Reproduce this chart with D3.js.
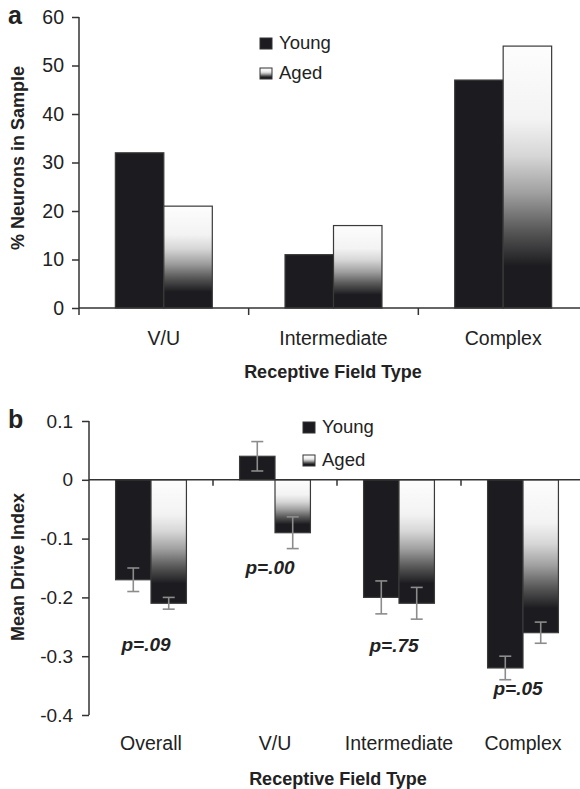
<!DOCTYPE html>
<html>
<head>
<meta charset="utf-8">
<script src="https://cdnjs.cloudflare.com/ajax/libs/d3/7.8.5/d3.min.js"></script>
<style>
  html, body { margin: 0; padding: 0; background: #fff; }
  svg { display: block; font-family: "Liberation Sans", Arial, Helvetica, sans-serif; }
</style>
</head>
<body>
<svg id="chart" width="580" height="789"></svg>
<script>
// ---- Panel a: distribution of receptive field types ----
const catsA = ["V/U", "Intermediate", "Complex"];
const groups = ["Young", "Aged"];
const youngPct = [32, 11, 47];
const agedPct = [21, 17, 54];
const ticksA = [0, 10, 20, 30, 40, 50, 60];

// ---- Panel b: mean drive index ----
const catsB = ["Overall", "V/U", "Intermediate", "Complex"];
const youngDrive = [-0.17, 0.04, -0.20, -0.32];
const agedDrive = [-0.21, -0.09, -0.21, -0.26];
const youngErr = [0.02, 0.025, 0.028, 0.02];
const agedErr = [0.01, 0.027, 0.027, 0.018];
const pLabels = ["p=.09", "p=.00", "p=.75", "p=.05"];
const ticksB = [0.1, 0, -0.1, -0.2, -0.3, -0.4];
const tickLabelsB = ["0.1", "0", "-0.1", "-0.2", "-0.3", "-0.4"];

// layout: baseline of each p label, in drive-index units
const pLabelY = [-0.291, -0.160, -0.293, -0.366];

const svg = d3.select("#chart");
const INK = "#222";
const AXIS = "#333";
const BAR_DARK = "#1c1b1f";

// white-to-black vertical fill used for the aged bars
const defs = svg.append("defs");
const grad = defs.append("linearGradient")
  .attr("id", "agedFill").attr("x1", 0).attr("y1", 0).attr("x2", 0).attr("y2", 1);
[[0, "#fdfdfd"], [0.28, "#f3f3f3"], [0.42, "#d6d6d6"], [0.56, "#a0a0a0"],
 [0.70, "#5a5a5a"], [0.84, BAR_DARK], [1, BAR_DARK]].forEach(([o, c]) =>
  grad.append("stop").attr("offset", o).attr("stop-color", c));

const fillFor = g => g === "Young" ? BAR_DARK : "url(#agedFill)";

function drawLegend(x, y, gap) {
  groups.forEach((g, i) => {
    const yy = y + i * gap;
    svg.append("rect").attr("x", x).attr("y", yy - 11).attr("width", 12).attr("height", 11)
      .attr("fill", fillFor(g)).attr("stroke", "#333").attr("stroke-width", 1);
    svg.append("text").attr("x", x + 19).attr("y", yy)
      .attr("font-size", 18.5).attr("fill", INK).text(g);
  });
}

// ================= Panel a =================
{
  const x = d3.scaleBand().domain(catsA).range([79, 588]);
  const x1 = d3.scaleBand().domain(groups).range([0, x.bandwidth()])
    .paddingInner(0).paddingOuter(0.75);
  const y = d3.scaleLinear().domain([0, 60]).range([308, 17]);

  const rows = catsA.map((c, i) => ({ c, vals: [youngPct[i], agedPct[i]] }));
  svg.append("g").selectAll("g").data(rows).join("g")
    .attr("transform", d => `translate(${x(d.c)},0)`)
    .selectAll("rect").data(d => d.vals.map((v, j) => ({ g: groups[j], v })))
    .join("rect")
    .attr("x", d => x1(d.g)).attr("width", x1.bandwidth())
    .attr("y", d => y(d.v)).attr("height", d => y(0) - y(d.v))
    .attr("fill", d => fillFor(d.g)).attr("stroke", "#3a3a3a").attr("stroke-width", 1.2);

  const yAxis = svg.append("g").attr("transform", "translate(79,0)")
    .call(d3.axisLeft(y).tickValues(ticksA).tickSize(7).tickPadding(8).tickFormat(d3.format("d")));
  yAxis.select(".domain").attr("stroke", AXIS).attr("stroke-width", 1.5).attr("d", `M0,${y(60)}V${y(0)}`);
  yAxis.selectAll(".tick line").attr("stroke", AXIS).attr("stroke-width", 1.5);
  yAxis.selectAll(".tick text").attr("font-size", 19.5).attr("fill", INK)
    .attr("font-family", "Liberation Sans, Arial, sans-serif");

  // baseline and band-boundary ticks
  svg.append("line").attr("x1", 79).attr("x2", 580).attr("y1", y(0)).attr("y2", y(0))
    .attr("stroke", AXIS).attr("stroke-width", 1.5);
  svg.append("g").selectAll("line").data(catsA).join("line")
    .attr("x1", d => x(d)).attr("x2", d => x(d)).attr("y1", y(0)).attr("y2", y(0) + 7)
    .attr("stroke", AXIS).attr("stroke-width", 1.5);

  const xl = svg.append("g").attr("transform", "translate(0,345)")
    .call(d3.axisBottom(x).tickSize(0).tickPadding(0));
  xl.select(".domain").remove();
  xl.selectAll(".tick text").attr("dy", 0).attr("font-size", 19.5).attr("fill", INK)
    .attr("font-family", "Liberation Sans, Arial, sans-serif");

  svg.append("text").attr("x", 333).attr("y", 378).attr("text-anchor", "middle")
    .attr("font-size", 18).attr("font-weight", "bold").attr("fill", INK).text("Receptive Field Type");
  svg.append("text").attr("transform", `translate(24,158) rotate(-90)`).attr("text-anchor", "middle")
    .attr("font-size", 18).attr("font-weight", "bold").attr("fill", INK).text("% Neurons in Sample");
  svg.append("text").attr("x", 8).attr("y", 24).attr("font-size", 25)
    .attr("font-weight", "bold").attr("fill", INK).text("a");

  drawLegend(260, 49, 30);
}

// ================= Panel b =================
{
  const x = d3.scaleBand().domain(catsB).range([89, 585]);
  const x1 = d3.scaleBand().domain(groups).range([0, x.bandwidth()])
    .paddingInner(0).paddingOuter(0.75);
  const y = d3.scaleLinear().domain([-0.4, 0.1]).range([715, 421]);

  const rows = catsB.map((c, i) => ({
    c,
    vals: [{ g: "Young", v: youngDrive[i], e: youngErr[i] }, { g: "Aged", v: agedDrive[i], e: agedErr[i] }]
  }));
  const grp = svg.append("g").selectAll("g").data(rows).join("g")
    .attr("transform", d => `translate(${x(d.c)},0)`);
  grp.selectAll("rect").data(d => d.vals).join("rect")
    .attr("x", d => x1(d.g)).attr("width", x1.bandwidth())
    .attr("y", d => y(Math.max(0, d.v))).attr("height", d => Math.abs(y(d.v) - y(0)))
    .attr("fill", d => fillFor(d.g)).attr("stroke", "#3a3a3a").attr("stroke-width", 1.2);

  // error bars with caps
  const eb = grp.selectAll("g.err").data(d => d.vals).join("g").attr("class", "err")
    .attr("stroke", "#8c8c8c").attr("stroke-width", 1.6);
  const cx = d => x1(d.g) + x1.bandwidth() / 2;
  eb.append("line").attr("x1", cx).attr("x2", cx)
    .attr("y1", d => y(d.v + d.e)).attr("y2", d => y(d.v - d.e));
  eb.append("line").attr("x1", d => cx(d) - 6).attr("x2", d => cx(d) + 6)
    .attr("y1", d => y(d.v + d.e)).attr("y2", d => y(d.v + d.e));
  eb.append("line").attr("x1", d => cx(d) - 6).attr("x2", d => cx(d) + 6)
    .attr("y1", d => y(d.v - d.e)).attr("y2", d => y(d.v - d.e));

  const yAxis = svg.append("g").attr("transform", "translate(89,0)")
    .call(d3.axisLeft(y).tickValues(ticksB).tickSize(7).tickPadding(9)
      .tickFormat((d, i) => tickLabelsB[i]));
  yAxis.select(".domain").attr("stroke", AXIS).attr("stroke-width", 1.5).attr("d", `M0,${y(0.1)}V${y(-0.4)}`);
  yAxis.selectAll(".tick line").attr("stroke", AXIS).attr("stroke-width", 1.5);
  yAxis.selectAll(".tick text").attr("font-size", 19).attr("fill", INK)
    .attr("font-family", "Liberation Sans, Arial, sans-serif");

  // zero line and band-boundary ticks
  svg.append("line").attr("x1", 89).attr("x2", 580).attr("y1", y(0)).attr("y2", y(0))
    .attr("stroke", AXIS).attr("stroke-width", 1.5);
  svg.append("g").selectAll("line").data(catsB.slice(1)).join("line")
    .attr("x1", d => x(d)).attr("x2", d => x(d)).attr("y1", y(0)).attr("y2", y(0) + 6)
    .attr("stroke", AXIS).attr("stroke-width", 1.5);

  // p values
  svg.append("g").selectAll("text").data(catsB).join("text")
    .attr("x", d => x(d) + x.bandwidth() / 2 - 5)
    .attr("y", (d, i) => y(pLabelY[i]))
    .attr("text-anchor", "middle").attr("font-size", 19).attr("font-weight", "bold")
    .attr("font-style", "italic").attr("fill", INK).text((d, i) => pLabels[i]);

  const xl = svg.append("g").attr("transform", "translate(0,750)")
    .call(d3.axisBottom(x).tickSize(0).tickPadding(0));
  xl.select(".domain").remove();
  xl.selectAll(".tick text").attr("dy", 0).attr("font-size", 19.5).attr("fill", INK)
    .attr("font-family", "Liberation Sans, Arial, sans-serif");

  svg.append("text").attr("x", 338).attr("y", 785).attr("text-anchor", "middle")
    .attr("font-size", 18).attr("font-weight", "bold").attr("fill", INK).text("Receptive Field Type");
  svg.append("text").attr("transform", `translate(24,567) rotate(-90)`).attr("text-anchor", "middle")
    .attr("font-size", 18).attr("font-weight", "bold").attr("fill", INK).text("Mean Drive Index");
  svg.append("text").attr("x", 8).attr("y", 428).attr("font-size", 25)
    .attr("font-weight", "bold").attr("fill", INK).text("b");

  drawLegend(303, 433, 33);
}
</script>
</body>
</html>
